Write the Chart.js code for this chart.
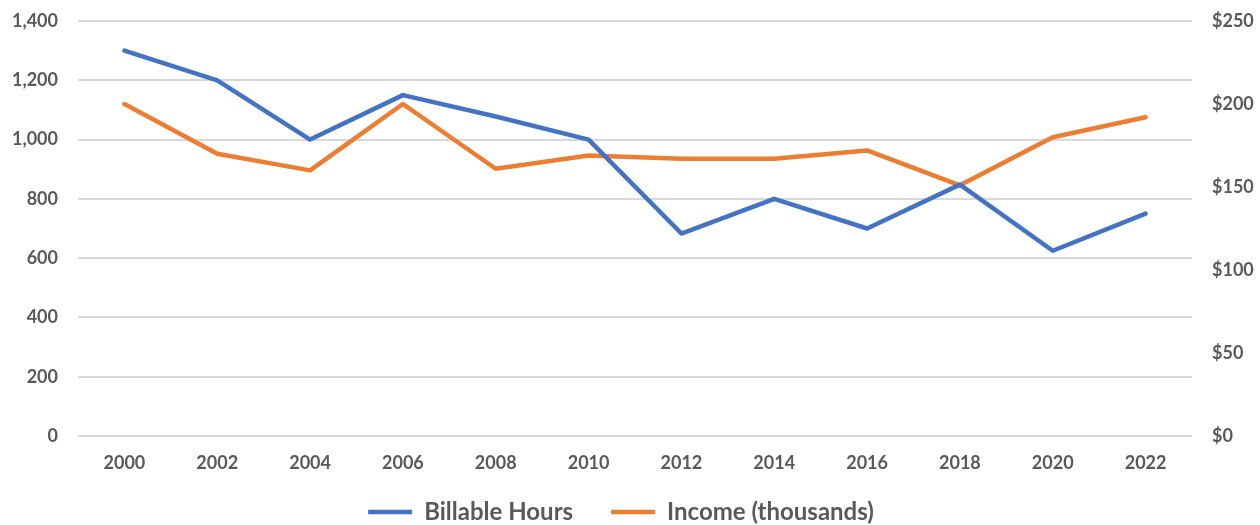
<!DOCTYPE html>
<html>
<head>
<meta charset="utf-8">
<script src="https://cdn.jsdelivr.net/npm/chart.js@4/dist/chart.umd.min.js"></script>
<style>
html,body{margin:0;padding:0;background:#fff;}
#wrap{width:1260px;height:525px;position:relative;}
</style>
</head>
<body>
<div id="wrap"><canvas id="c" width="1260" height="525"></canvas></div>
<script>
const years = ['2000','2002','2004','2006','2008','2010','2012','2014','2016','2018','2020','2022'];
const billableHours = [1300,1200,1000,1150,1078,1000,683,800,700,848,625,750];
const incomeThousands = [200,170,160,200,161,169,167,167,172,151,180,192];
const leftTicks = [0,200,400,600,800,1000,1200,1400];
const rightTicks = [0,50,100,150,200,250];

const TXT = '#595959';
const FONT = {family: 'Lato', weight: 'bold', size: 18};

const legendShift = {
  id: 'legendShift',
  afterLayout(chart) {
    const lg = chart.legend;
    if (!lg) return;
    lg.right -= 18;
    lg.top -= 12;
    lg.bottom -= 12;
  }
};

new Chart(document.getElementById('c'), {
  type: 'line',
  data: {
    labels: years,
    datasets: [
      {label: 'Billable Hours', data: billableHours, yAxisID: 'y',
       borderColor: '#4472C4', backgroundColor: '#4472C4', borderWidth: 4.5,
       pointRadius: 0, tension: 0, borderCapStyle: 'round', borderJoinStyle: 'round'},
      {label: 'Income (thousands)', data: incomeThousands, yAxisID: 'y1',
       borderColor: '#ED7D31', backgroundColor: '#ED7D31', borderWidth: 4.5,
       pointRadius: 0, tension: 0, borderCapStyle: 'round', borderJoinStyle: 'round'}
    ]
  },
  plugins: [legendShift],
  options: {
    responsive: false,
    animation: false,
    layout: {padding: {top: 21, bottom: -21, left: 0, right: 0}},
    plugins: {
      legend: {
        position: 'bottom',
        labels: {
          color: TXT, font: {family: 'Lato', weight: 'bold', size: 24},
          usePointStyle: true, pointStyle: 'line', pointStyleWidth: 44,
          padding: 38
        }
      },
      tooltip: {enabled: false}
    },
    scales: {
      x: {
        offset: true,
        afterFit: s => { s.height = 38; },
        grid: {display: false, drawTicks: false},
        border: {display: false},
        ticks: {color: TXT, font: FONT, padding: 16, maxRotation: 0}
      },
      y: {
        position: 'left', min: 0, max: 1400,
        afterBuildTicks: s => { s.ticks = leftTicks.map(v => ({value: v})); },
        afterFit: s => { s.width = 78; s.paddingTop = 0; s.paddingBottom = 0; },
        grid: {color: '#D9D9D9', lineWidth: 2, drawTicks: false},
        border: {display: false},
        ticks: {color: TXT, font: FONT, padding: 20,
                callback: v => v.toLocaleString('en-US')}
      },
      y1: {
        position: 'right', min: 0, max: 250,
        afterBuildTicks: s => { s.ticks = rightTicks.map(v => ({value: v})); },
        afterFit: s => { s.width = 68; s.paddingTop = 0; s.paddingBottom = 0; },
        grid: {drawOnChartArea: false, drawTicks: false},
        border: {display: false},
        ticks: {color: TXT, font: FONT, padding: 20, callback: v => '$' + v}
      }
    }
  }
});
</script>
</body>
</html>
